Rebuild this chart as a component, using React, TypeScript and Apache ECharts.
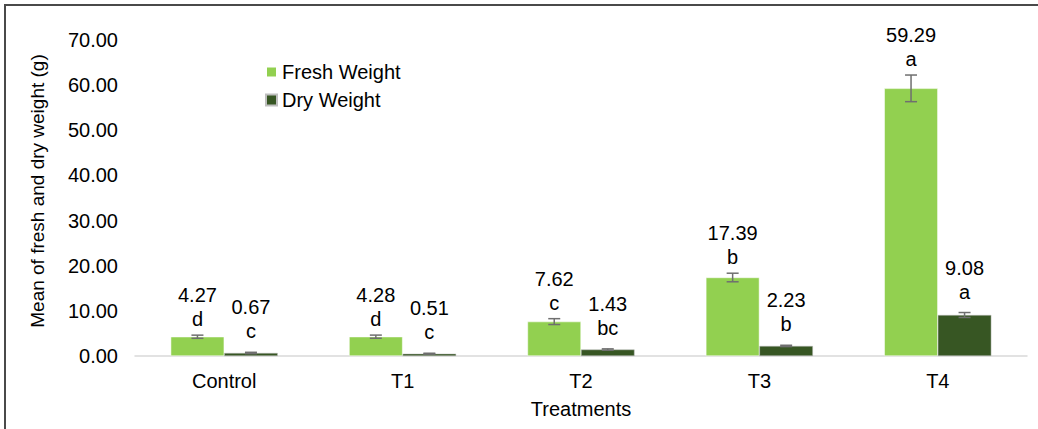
import React, { useEffect, useRef } from "react";
import * as echarts from "echarts";

const categories = ["Control", "T1", "T2", "T3", "T4"];
const freshMeans = [4.27, 4.28, 7.62, 17.39, 59.29];
const freshErr = [0.35, 0.35, 0.65, 0.95, 2.95];
const freshLetters = ["d", "d", "c", "b", "a"];
const dryMeans = [0.67, 0.51, 1.43, 2.23, 9.08];
const dryErr = [0.15, 0.1, 0.15, 0.15, 0.55];
const dryLetters = ["c", "c", "bc", "b", "a"];
const yTicks = [0, 10, 20, 30, 40, 50, 60, 70];

const FONT = "'Liberation Sans', Arial, sans-serif";
const FRESH = "#92D050";
const DRY = "#375623";

function makeErrSeries(name: string, means: number[], errs: number[], letters: string[], side: number, gap: number) {
  return {
    type: "custom",
    name: name + "-err",
    z: 5,
    silent: true,
    data: means.map((m, i) => [i, m, errs[i]]),
    renderItem: (params: any, api: any) => {
      const idx = api.value(0);
      const mean = api.value(1);
      const err = api.value(2);
      const c = api.coord([idx, mean]);
      const band = api.size([1, 0])[0];
      const bw = band * 0.3;
      const x = c[0] + side * bw / 2;
      const top = api.coord([idx, mean + err])[1];
      const bot = api.coord([idx, mean - err])[1];
      const cap = 6;
      const ls = { stroke: "#6f6f6f", lineWidth: 1.5 };
      return {
        type: "group",
        children: [
          { type: "line", shape: { x1: x, y1: top, x2: x, y2: bot }, style: ls },
          { type: "line", shape: { x1: x - cap, y1: top, x2: x + cap, y2: top }, style: ls },
          { type: "line", shape: { x1: x - cap, y1: bot, x2: x + cap, y2: bot }, style: ls },
          {
            type: "text",
            x: x,
            y: top - gap,
            style: {
              text: mean.toFixed(2) + "\n" + letters[idx],
              align: "center",
              verticalAlign: "bottom",
              fontSize: 20,
              lineHeight: 24,
              fontFamily: FONT,
              fill: "#000",
            },
          },
        ],
      };
    },
  };
}

export default function App() {
  const ref = useRef<HTMLDivElement>(null);
  useEffect(() => {
    if (!ref.current) return;
    const chart = echarts.init(ref.current, undefined, { renderer: "svg" });
    chart.setOption({
      animation: false,
      backgroundColor: "#fff",
      textStyle: { fontFamily: FONT },
      graphic: [
        {
          type: "rect",
          shape: { x: 5, y: 5, width: 1040, height: 440 },
          style: { fill: "none", stroke: "#4a4a4a", lineWidth: 2 },
          silent: true,
        },
      ],
      legend: {
        orient: "vertical",
        left: 265,
        top: 62,
        padding: 0,
        itemWidth: 11,
        itemHeight: 11,
        itemGap: 8,
        icon: "rect",
        textStyle: { fontSize: 20, fontFamily: FONT, color: "#000" },
        data: ["Fresh Weight", "Dry Weight"],
      },
      grid: { left: 135, right: 11, top: 40, bottom: 73, containLabel: false },
      xAxis: {
        type: "category",
        data: categories,
        name: "Treatments",
        nameLocation: "middle",
        nameGap: 43,
        nameTextStyle: { fontSize: 20, fontFamily: FONT, color: "#000" },
        axisLine: { lineStyle: { color: "#d9d9d9", width: 1.5 } },
        axisTick: { show: false },
        axisLabel: { fontSize: 20, fontFamily: FONT, color: "#000", margin: 15 },
      },
      yAxis: {
        type: "value",
        min: yTicks[0],
        max: yTicks[yTicks.length - 1],
        interval: 10,
        name: "Mean of fresh and dry weight (g)",
        nameLocation: "middle",
        nameGap: 88,
        nameTextStyle: { fontSize: 19, fontFamily: FONT, color: "#000", padding: [0, 0, 0, 14] },
        axisLine: { show: false },
        axisTick: { show: false },
        splitLine: { show: false },
        axisLabel: {
          fontSize: 20,
          fontFamily: FONT,
          color: "#000",
          margin: 17,
          formatter: (v: number) => v.toFixed(2),
        },
      },
      series: [
        {
          type: "bar",
          name: "Fresh Weight",
          data: freshMeans,
          itemStyle: { color: FRESH, borderColor: "#ffffff", borderWidth: 0.5 },
          barGap: "0%",
          barCategoryGap: "40%",
        },
        {
          type: "bar",
          name: "Dry Weight",
          data: dryMeans,
          itemStyle: { color: DRY, borderColor: "#bfbfbf", borderWidth: 0.5 },
          barGap: "0%",
          barCategoryGap: "40%",
        },
        makeErrSeries("fresh", freshMeans, freshErr, freshLetters, -1, 4),
        makeErrSeries("dry", dryMeans, dryErr, dryLetters, 1, 9),
      ],
    });
    return () => chart.dispose();
  }, []);
  return (
    <div
      ref={ref}
      style={{ position: "fixed", left: 0, top: 0, width: 1038, height: 429 }}
    />
  );
}
